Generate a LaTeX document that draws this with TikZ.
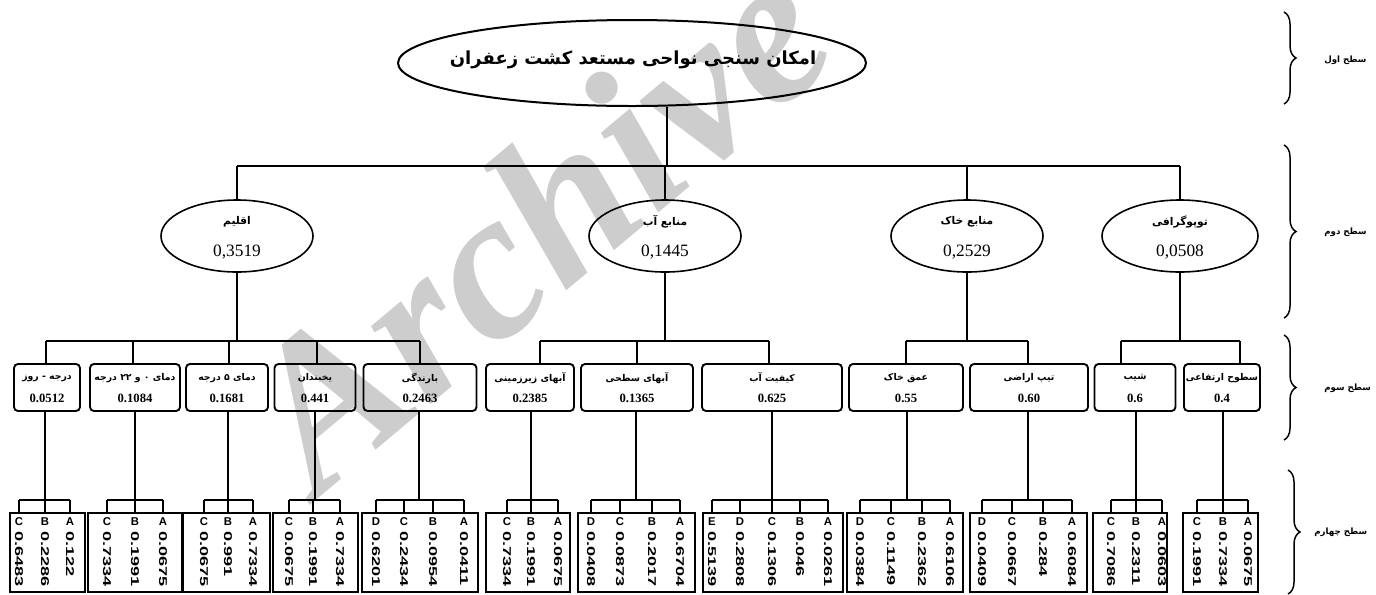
\documentclass[tikz,border=0pt]{standalone}
\usepackage{fontspec}
\usepackage{graphicx}
\setmainfont{Liberation Serif}
\newfontfamily\fa[Script=Arabic]{DejaVu Sans}
\newfontfamily\arial{Liberation Sans}
\TeXXeTstate=1
\usetikzlibrary{shapes.geometric,decorations.pathreplacing}
\newcommand\fab{\fa\bfseries}
\definecolor{wm}{HTML}{CDCDCD}

\tikzset{
  ln1/.style={line width=2.2pt},
  lnthin/.style={line width=1.1pt},
  ln/.style={line width=1.8pt},
  ln4/.style={line width=1.4pt},
  ellbig/.style={draw, ellipse, line width=1.5pt, inner sep=0pt},
  ell/.style={draw, ellipse, line width=1.2pt, inner sep=0pt},
  bx3/.style={draw, rectangle, rounded corners=3pt, line width=1.4pt, inner sep=0pt, minimum height=47*0.75pt},
  bx4/.style={draw, rectangle, line width=1.4pt, inner sep=0pt, minimum height=79*0.75pt},
  ttl/.style={inner sep=0pt, font=\fontsize{13.5}{15}\fab},
  l2name/.style={inner sep=0pt, font=\fontsize{8}{9}\fab},
  l2val/.style={inner sep=0pt, font=\fontsize{13}{14}\selectfont},
  l3name/.style={inner sep=0pt, font=\fontsize{7}{8}\fab},
  l3val/.style={inner sep=0pt, font=\fontsize{9.5}{10}\selectfont\bfseries},
  let4/.style={inner sep=0pt, font=\fontsize{8.5}{9}\arial\bfseries},
  val4/.style={inner sep=0pt, rotate=-90, anchor=west, font=\fontsize{8.5}{9}\arial\bfseries},
  lvl/.style={inner sep=0pt, anchor=west, font=\fontsize{6.5}{7}\fab},
  brc/.style={decorate, decoration={brace, amplitude=9pt, aspect=0.5}, line width=1.1pt},
}

% level-3 box: name, cx, width, persian, value, drop x
\newcommand\levthree[6]{%
  \node[bx3, minimum width=#3*0.75pt] (#1) at (#2,387.5) {};
  \node[l3name] (#1n) at (#2,378) {#4};
  \node[l3val] (#1v) at (#2,398) {#5};
  \coordinate (#1d) at (#6,341);
  \draw[ln] (#1d) -- (#1d |- #1.north);
}
% level-4 box: name, cx, width, level-3 node, trunk x, list x/letter/value
\newcommand\levfour[6]{%
  \node[bx4, minimum width=#3*0.75pt] (#1) at (#2,552.5) {};
  \coordinate (#1t) at (#5,500);
  \draw[ln] (#1t) -- (#1t |- #4.south);
  \foreach \xx/\ll/\vv [count=\i, remember=\i as \j (initially 0)] in {#6} {
    \coordinate (#1d\i) at (\xx,500);
    \draw[ln4] (#1d\i) -- (#1d\i |- #1.north);
    \node[let4] (#1l\i) at (\xx,522) {\ll};
    \node[val4] (#1v\i) at (\xx,531) {\scalebox{1.6}[1]{\vv}};
    \ifnum\i>1 \draw[ln4] (#1d\j) -- (#1d\i); \fi
  }
}

\begin{document}
\begin{tikzpicture}[x=0.75pt,y=-0.75pt]
\useasboundingbox (0,0) rectangle (1376,594);

% watermark
\node[inner sep=0pt, rotate=40, text=wm, font=\fontsize{160}{160}\selectfont\bfseries\itshape] (wmark) at (535,222) {Archive};

% level 1
\node[ellbig, minimum width=468*0.75pt, minimum height=86*0.75pt] (top) at (632,63) {};
\node[ttl] (toptxt) at (633,60) {\beginR امکان سنجی نواحی مستعد کشت زعفران\endR};
\coordinate (tk) at (667,166);
\draw[lnthin] (tk |- top.south) -- (tk);

% level 2
\node[ell, minimum width=152*0.75pt, minimum height=72*0.75pt] (E1) at (237,236) {};
\node[ell, minimum width=152*0.75pt, minimum height=72*0.75pt] (E2) at (665,236) {};
\node[ell, minimum width=152*0.75pt, minimum height=72*0.75pt] (E3) at (967,236) {};
\node[ell, minimum width=156*0.75pt, minimum height=72*0.75pt] (E4) at (1180,236) {};
\node[l2name] (E1n) at (237,222) {\beginR اقلیم\endR};
\node[l2name] (E2n) at (665,222) {\beginR منابع آب\endR};
\node[l2name] (E3n) at (967,222) {\beginR منابع خاک\endR};
\node[l2name] (E4n) at (1180,222) {\beginR توپوگرافی\endR};
\node[l2val] (E1v) at (237,252) {0,3519};
\node[l2val] (E2v) at (665,252) {0,1445};
\node[l2val] (E3v) at (967,252) {0,2529};
\node[l2val] (E4v) at (1180,252) {0,0508};

\draw[ln1] (E1.north |- tk) -- (E4.north |- tk);
\foreach \e in {E1,E2,E3,E4} { \draw[lnthin] (\e.north |- tk) -- (\e.north); }

% level 3
\levthree{La}{47}{66}{\beginR درجه - روز\endR}{0.0512}{46}
\levthree{Lb}{135}{90}{\beginR دمای ۰ و ۲۲ درجه\endR}{0.1084}{133}
\levthree{Lc}{227}{82}{\beginR دمای ۵ درجه\endR}{0.1681}{229}
\levthree{Ld}{315}{81}{\beginR یخبندان\endR}{0.441}{317}
\levthree{Le}{420}{113}{\beginR بارندگی\endR}{0.2463}{420}
\levthree{Lf}{530}{88}{\beginR آبهای زیرزمینی\endR}{0.2385}{540}
\levthree{Lg}{637}{112}{\beginR آبهای سطحی\endR}{0.1365}{637}
\levthree{Lh}{772}{140}{\beginR کیفیت آب\endR}{0.625}{769}
\levthree{Li}{906}{114}{\beginR عمق خاک\endR}{0.55}{906}
\levthree{Lj}{1029}{118}{\beginR تیپ اراضی\endR}{0.60}{1028}
\levthree{Lk}{1135}{81}{\beginR شیب\endR}{0.6}{1121}
\levthree{Ll}{1222}{76}{\beginR سطوح ارتفاعی\endR}{0.4}{1240}

\draw[ln] (Lad) -- (Led);
\draw[ln] (Lfd) -- (Lhd);
\draw[ln] (Lid) -- (Ljd);
\draw[ln1] (Lkd) -- (Lld);
\draw[ln] (E1.south) -- (E1.south |- Lad);
\draw[ln] (E2.south) -- (E2.south |- Lad);
\draw[ln] (E3.south) -- (E3.south |- Lad);
\draw[ln] (E4.south) -- (E4.south |- Lad);

% level 4
\levfour{Ba}{47.5}{75}{La}{45}{19/C/0.6483, 45/B/0.2286, 70/A/0.122}
\levfour{Bb}{135}{94}{Lb}{135}{107/C/0.7334, 135/B/0.1991, 163/A/0.0675}
\levfour{Bc}{226.5}{87}{Lc}{228}{204/C/0.0675, 228/B/0.991, 253/A/0.7334}
\levfour{Bd}{315.5}{85}{Ld}{315}{289/C/0.0675, 313/B/0.1991, 340/A/0.7334}
\levfour{Be}{420}{116}{Le}{419}{376/D/0.6201, 404/C/0.2434, 433/B/0.0954, 464/A/0.0411}
\levfour{Bf}{528}{84}{Lf}{531}{507/C/0.7334, 531/B/0.1991, 558/A/0.0675}
\levfour{Bg}{636.5}{117}{Lg}{636}{591/D/0.0408, 620/C/0.0873, 652/B/0.2017, 680/A/0.6704}
\levfour{Bh}{773}{140}{Lh}{772}{712/E/0.5139, 740/D/0.2808, 772/C/0.1306, 800/B/0.046, 828/A/0.0261}
\levfour{Bi}{905}{116}{Li}{907}{860/D/0.0384, 891/C/0.1149, 922/B/0.2362, 950/A/0.6106}
\levfour{Bj}{1028.5}{117}{Lj}{1028}{982/D/0.0409, 1012/C/0.0667, 1043/B/0.284, 1072/A/0.6084}
\levfour{Bk}{1130}{74}{Lk}{1136}{1111/C/0.7086, 1136/B/0.2311, 1162/A/0.0603}
\levfour{Bl}{1220.5}{75}{Ll}{1223}{1197/C/0.1991, 1223/B/0.7334, 1248/A/0.0675}

% level braces
\coordinate (r1a) at (1284,12);  \coordinate (r1b) at (1284,104);
\coordinate (r2a) at (1284,145); \coordinate (r2b) at (1284,318);
\coordinate (r3a) at (1284,335); \coordinate (r3b) at (1284,440);
\coordinate (r4a) at (1288,470); \coordinate (r4b) at (1288,594);
\draw[brc] (r1a) -- (r1b);
\draw[brc] (r2a) -- (r2b);
\draw[brc] (r3a) -- (r3b);
\draw[brc] (r4a) -- (r4b);
\node[lvl] (lv1) at (1324,60) {\beginR سطح اول\endR};
\node[lvl] (lv2) at (1324,232) {\beginR سطح دوم\endR};
\node[lvl] (lv3) at (1324,388) {\beginR سطح سوم\endR};
\node[lvl] (lv4) at (1314,532) {\beginR سطح چهارم\endR};
\end{tikzpicture}
\end{document}
